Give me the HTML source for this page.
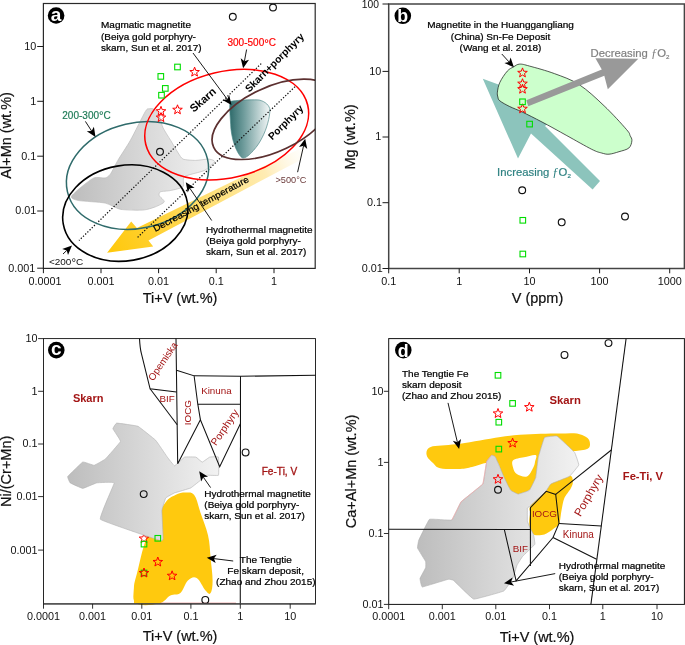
<!DOCTYPE html>
<html lang="en"><head><meta charset="utf-8"><title>Magnetite discrimination diagrams</title>
<style>html,body{margin:0;padding:0;background:#fff}svg{display:block}text{font-family:"Liberation Sans", Arial, Helvetica, sans-serif}</style>
</head><body>
<svg width="685" height="645" viewBox="0 0 685 645">
<defs>
<linearGradient id="gGray" x1="0" y1="0" x2="1" y2="0"><stop offset="0" stop-color="#bdbdbd"/><stop offset="1" stop-color="#f2f2f2"/></linearGradient>
<linearGradient id="gTeal" x1="0" y1="0" x2="1" y2="0"><stop offset="0" stop-color="#2f6b6b"/><stop offset="0.35" stop-color="#6f9c9c"/><stop offset="1" stop-color="#f4f8f8"/></linearGradient>
<linearGradient id="gBand" gradientUnits="userSpaceOnUse" x1="112" y1="250" x2="303" y2="152"><stop offset="0" stop-color="#ffc90e"/><stop offset="0.2" stop-color="#ffd02e"/><stop offset="0.5" stop-color="#ffdf72"/><stop offset="0.8" stop-color="#ffecb4"/><stop offset="1" stop-color="#fff8e6" stop-opacity="0.2"/></linearGradient>
<clipPath id="clipA"><rect x="43.4" y="3.5" width="271.8" height="264.9"/></clipPath>
<clipPath id="clipD"><rect x="388.7" y="338.6" width="295.9" height="265.8"/></clipPath>
</defs>
<rect width="685" height="645" fill="#fff"/>
<g id="panel-a">
<g clip-path="url(#clipA)">
<path d="M149.2 108.8 C148.3 109.1 147.6 107.7 145.4 111.4 C143.2 115.1 133.6 134.6 130.4 140.3 C127.2 146.0 120.1 156.4 117.8 160.4 C115.5 164.4 111.8 172.2 110.3 174.2 C108.8 176.2 107.1 177.5 105.2 177.9 C103.3 178.3 96.8 176.7 93.9 177.9 C91.0 179.1 82.7 185.8 80.1 188.0 C77.5 190.2 71.5 195.3 71.3 196.8 C71.1 198.3 74.8 199.9 78.8 200.6 C82.8 201.3 100.4 202.1 105.2 203.1 C110.0 204.1 115.9 208.5 120.3 209.3 C124.7 210.1 138.8 210.4 142.9 210.1 C147.0 209.8 153.0 207.8 155.5 206.8 C158.0 205.8 163.9 203.1 164.3 201.8 C164.7 200.5 159.6 196.7 159.2 195.5 C158.8 194.3 159.2 192.4 160.5 191.8 C161.8 191.2 168.0 191.1 170.6 190.5 C173.2 189.9 181.5 188.3 183.1 186.7 C184.7 185.1 181.9 178.6 184.4 176.7 C186.9 174.8 201.0 172.2 204.5 170.4 C208.0 168.6 214.1 162.9 214.5 161.6 C214.9 160.3 210.4 159.2 208.2 159.1 C206.0 159.0 198.6 160.4 195.7 160.4 C192.8 160.4 185.2 160.0 183.1 159.1 C181.0 158.2 179.6 155.0 178.1 152.8 C176.6 150.6 172.4 143.2 170.6 140.3 C168.8 137.4 164.2 130.2 163.0 127.7 C161.8 125.2 161.2 120.8 160.5 118.9 C159.8 117.0 157.6 112.6 156.7 111.4 C155.8 110.2 153.9 109.1 153.0 108.8 C152.1 108.5 150.1 108.5 149.2 108.8Z" fill="url(#gGray)" stroke="#b5b5b5" stroke-width="0.6"/>
<polygon points="107.1,252.7 131.2,221.5 136.9,228.0 305.5,146.0 300.0,160.2 148.5,240.6 153.2,246.6" fill="url(#gBand)"/>
<path d="M230 101.5 C236 100.2 250 99.6 258 99.9 C263 100.4 268.5 104 269.7 108.6 C270.5 113 268 125 263.8 134.2 C260 142.5 256.5 147 253.4 150.5 C249.5 155 246 158 242.9 158 C240 157.5 236 150 233.6 142.3 C231.5 135 230.7 128 230.7 124.9 C230.3 118 229.3 108 230 101.5Z" fill="url(#gTeal)" stroke="#4f8a8a" stroke-width="0.7"/>
<line x1="261.2" y1="63.6" x2="79" y2="240.5" stroke="#111" stroke-width="1.25" stroke-dasharray="1.3 1.75"/>
<line x1="295" y1="86.7" x2="136.4" y2="238.5" stroke="#111" stroke-width="1.25" stroke-dasharray="1.3 1.75"/>
<ellipse cx="137.5" cy="175.5" rx="71.9" ry="52.7" transform="rotate(-13.1 137.5 175.5)" fill="none" stroke="#2f6b6b" stroke-width="1.5"/>
<ellipse cx="125.3" cy="213.1" rx="63" ry="47.7" transform="rotate(-9.9 125.3 213.1)" fill="none" stroke="#000" stroke-width="1.6"/>
<ellipse cx="226.7" cy="124.6" rx="83.3" ry="53.1" transform="rotate(-13.6 226.7 124.6)" fill="none" stroke="#ff0000" stroke-width="1.6"/>
<ellipse cx="272.6" cy="119.3" rx="65.2" ry="32" transform="rotate(-25.4 272.6 119.3)" fill="none" stroke="#5c3030" stroke-width="1.7"/>
</g>
<rect x="158.0" y="73.6" width="5.6" height="5.6" fill="none" stroke="#00dd00" stroke-width="1.10"/>
<rect x="162.5" y="85.6" width="5.6" height="5.6" fill="none" stroke="#00dd00" stroke-width="1.10"/>
<rect x="158.7" y="92.4" width="5.6" height="5.6" fill="none" stroke="#00dd00" stroke-width="1.10"/>
<rect x="174.7" y="64.2" width="5.6" height="5.6" fill="none" stroke="#00dd00" stroke-width="1.10"/>
<polygon points="161.0,106.3 162.2,109.6 165.8,109.8 163.0,111.9 163.9,115.3 161.0,113.4 158.1,115.3 159.0,111.9 156.2,109.8 159.8,109.6" fill="none" stroke="#ff0000" stroke-width="1.00" stroke-linejoin="miter"/>
<polygon points="161.0,112.6 162.2,115.9 165.8,116.1 163.0,118.2 163.9,121.6 161.0,119.7 158.1,121.6 159.0,118.2 156.2,116.1 159.8,115.9" fill="none" stroke="#ff0000" stroke-width="1.00" stroke-linejoin="miter"/>
<polygon points="194.6,67.1 195.8,70.4 199.4,70.6 196.6,72.7 197.5,76.1 194.6,74.2 191.7,76.1 192.6,72.7 189.8,70.6 193.4,70.4" fill="none" stroke="#ff0000" stroke-width="1.00" stroke-linejoin="miter"/>
<polygon points="177.5,104.8 178.7,108.1 182.3,108.3 179.5,110.4 180.4,113.8 177.5,111.9 174.6,113.8 175.5,110.4 172.7,108.3 176.3,108.1" fill="none" stroke="#ff0000" stroke-width="1.00" stroke-linejoin="miter"/>
<circle cx="160.0" cy="151.8" r="3.4" fill="none" stroke="#111" stroke-width="1.15"/>
<circle cx="232.8" cy="16.8" r="3.4" fill="none" stroke="#111" stroke-width="1.15"/>
<circle cx="273.0" cy="7.5" r="3.4" fill="none" stroke="#111" stroke-width="1.15"/>
<text transform="translate(101.0 28.1) scale(1.100 1)" font-size="9.09" text-anchor="start" fill="#000" font-weight="normal" stroke="#000" stroke-width="0.22">Magmatic magnetite</text>
<text transform="translate(101.0 39.5) scale(1.100 1)" font-size="9.09" text-anchor="start" fill="#000" font-weight="normal" stroke="#000" stroke-width="0.22">(Beiya gold porphyry-</text>
<text transform="translate(101.0 50.8) scale(1.100 1)" font-size="9.09" text-anchor="start" fill="#000" font-weight="normal" stroke="#000" stroke-width="0.22">skarn, Sun et al. 2017)</text>
<line x1="193.0" y1="53.0" x2="227.3" y2="99.3" stroke="#000" stroke-width="0.90"/>
<polygon points="231.5,105.0 222.5,99.9 227.3,99.3 229.2,94.9" fill="#000"/>
<text transform="translate(227.5 45.7)" font-size="10.00" text-anchor="start" fill="#ff0000" font-weight="normal" stroke="#ff0000" stroke-width="0.18">300-500<tspan font-size="11.5" dy="0.8">°</tspan><tspan dy="-0.8">C</tspan></text>
<line x1="246.6" y1="49.5" x2="244.4" y2="61.3" stroke="#000" stroke-width="0.90"/>
<polygon points="243.1,68.3 240.7,58.2 244.4,61.3 249.0,59.7" fill="#000"/>
<text transform="translate(62.3 118.6)" font-size="10.00" text-anchor="start" fill="#1e7b57" font-weight="normal" stroke="#1e7b57" stroke-width="0.18">200-300<tspan font-size="11.5" dy="0.8">°</tspan><tspan dy="-0.8">C</tspan></text>
<line x1="85.4" y1="121.4" x2="91.6" y2="131.0" stroke="#000" stroke-width="0.90"/>
<polygon points="95.5,137.0 86.8,131.3 91.6,131.0 93.9,126.7" fill="#000"/>
<text transform="translate(48.9 265.0) scale(1.090 1)" font-size="9.17" text-anchor="start" fill="#111" font-weight="normal">&lt;200<tspan font-size="10.6" dy="0.8">°</tspan><tspan dy="-0.8">C</tspan></text>
<line x1="63.0" y1="254.0" x2="66.8" y2="250.4" stroke="#000" stroke-width="0.90"/>
<polygon points="72.0,245.5 68.0,255.1 66.8,250.4 62.2,249.0" fill="#000"/>
<text transform="translate(275.5 182.8)" font-size="9.20" text-anchor="start" fill="#6b3a3a" font-weight="normal">&gt;500°C</text>
<line x1="297.6" y1="172.2" x2="303.6" y2="145.7" stroke="#000" stroke-width="0.90"/>
<polygon points="305.2,138.8 307.2,149.0 303.6,145.7 299.0,147.1" fill="#000"/>
<text transform="translate(202.7 99.7) rotate(-41.0)" font-size="11.00" text-anchor="middle" fill="#000" font-weight="bold" dominant-baseline="central">Skarn</text>
<text transform="translate(274.5 62.5) rotate(-45.0)" font-size="10.20" text-anchor="middle" fill="#000" font-weight="bold" dominant-baseline="central">Skarn+porphyry</text>
<text transform="translate(285.7 122.3) rotate(-44.5)" font-size="10.20" text-anchor="middle" fill="#000" font-weight="bold" dominant-baseline="central">Porphyry</text>
<text transform="translate(155.2 232.1) rotate(-28.3) scale(1.100 1)" font-size="9.09" text-anchor="start" fill="#000" font-weight="normal" stroke="#000" stroke-width="0.22">Decreasing temperature</text>
<text transform="translate(205.9 233.0) scale(1.100 1)" font-size="9.09" text-anchor="start" fill="#000" font-weight="normal" stroke="#000" stroke-width="0.22">Hydrothermal magnetite</text>
<text transform="translate(205.9 244.3) scale(1.100 1)" font-size="9.09" text-anchor="start" fill="#000" font-weight="normal" stroke="#000" stroke-width="0.22">(Beiya gold porphyry-</text>
<text transform="translate(205.9 255.3) scale(1.100 1)" font-size="9.09" text-anchor="start" fill="#000" font-weight="normal" stroke="#000" stroke-width="0.22">skarn, Sun et al. 2017)</text>
<line x1="211.7" y1="220.5" x2="189.8" y2="188.2" stroke="#000" stroke-width="0.90"/>
<polygon points="185.8,182.3 194.6,187.8 189.8,188.2 187.7,192.5" fill="#000"/>
<rect x="43.4" y="3.5" width="271.8" height="264.9" fill="none" stroke="#2a2a2a" stroke-width="1.20"/>
<line x1="43.4" y1="268.4" x2="43.4" y2="273.2" stroke="#1a1a1a" stroke-width="1.00"/>
<text transform="translate(45.0 284.6)" font-size="10.80" text-anchor="middle" fill="#111" font-weight="normal">0.0001</text>
<line x1="101.0" y1="268.4" x2="101.0" y2="273.2" stroke="#1a1a1a" stroke-width="1.00"/>
<text transform="translate(101.0 284.6)" font-size="10.80" text-anchor="middle" fill="#111" font-weight="normal">0.001</text>
<line x1="158.6" y1="268.4" x2="158.6" y2="273.2" stroke="#1a1a1a" stroke-width="1.00"/>
<text transform="translate(158.6 284.6)" font-size="10.80" text-anchor="middle" fill="#111" font-weight="normal">0.01</text>
<line x1="216.2" y1="268.4" x2="216.2" y2="273.2" stroke="#1a1a1a" stroke-width="1.00"/>
<text transform="translate(216.2 284.6)" font-size="10.80" text-anchor="middle" fill="#111" font-weight="normal">0.1</text>
<line x1="274.0" y1="268.4" x2="274.0" y2="273.2" stroke="#1a1a1a" stroke-width="1.00"/>
<text transform="translate(274.0 284.6)" font-size="10.80" text-anchor="middle" fill="#111" font-weight="normal">1</text>
<line x1="37.2" y1="46.5" x2="43.4" y2="46.5" stroke="#1a1a1a" stroke-width="1.00"/>
<text transform="translate(36.2 49.9)" font-size="10.80" text-anchor="end" fill="#111" font-weight="normal">10</text>
<line x1="37.2" y1="101.3" x2="43.4" y2="101.3" stroke="#1a1a1a" stroke-width="1.00"/>
<text transform="translate(36.2 104.7)" font-size="10.80" text-anchor="end" fill="#111" font-weight="normal">1</text>
<line x1="37.2" y1="156.2" x2="43.4" y2="156.2" stroke="#1a1a1a" stroke-width="1.00"/>
<text transform="translate(36.2 159.6)" font-size="10.80" text-anchor="end" fill="#111" font-weight="normal">0.1</text>
<line x1="37.2" y1="211.0" x2="43.4" y2="211.0" stroke="#1a1a1a" stroke-width="1.00"/>
<text transform="translate(36.2 214.4)" font-size="10.80" text-anchor="end" fill="#111" font-weight="normal">0.01</text>
<line x1="37.2" y1="268.2" x2="43.4" y2="268.2" stroke="#1a1a1a" stroke-width="1.00"/>
<text transform="translate(35.2 271.6)" font-size="10.80" text-anchor="end" fill="#111" font-weight="normal">0.001</text>
<text transform="translate(180.0 303.0) scale(1.050 1)" font-size="13.81" text-anchor="middle" fill="#111" font-weight="normal" stroke="#111" stroke-width="0.20">Ti+V (wt.%)</text>
<text transform="translate(11.4 135.4) rotate(-90.0) scale(1.050 1)" font-size="13.81" text-anchor="middle" fill="#111" font-weight="normal" stroke="#111" stroke-width="0.20">Al+Mn (wt.%)</text>
<circle cx="56.1" cy="15.5" r="8.3" fill="#000"/>
<text transform="translate(56.1 20.6)" font-size="19.00" text-anchor="middle" fill="#fff" font-weight="bold">a</text>
</g>
<g id="panel-b">
<polygon points="482.8,78.8 518.0,158.5 531.0,133.4 592.6,189.4 600.0,181.0 545.0,126.0 564.7,108.6" fill="#8cc4bc"/>
<path d="M519.7 64.1 C522.4 64.0 523.8 64.5 529.6 66.1 C535.4 67.7 546.1 70.5 554.4 73.6 C562.7 76.7 571.0 79.3 579.3 84.7 C587.6 90.1 596.2 98.3 604.1 105.8 C612.0 113.2 622.1 124.4 626.4 129.4 C630.7 134.4 629.2 133.7 630.1 135.6 C631.0 137.5 632.1 138.5 631.9 140.6 C631.7 142.7 631.0 146.2 628.9 148.0 C626.8 149.8 622.3 150.7 619.0 151.7 C615.7 152.7 611.9 154.0 609.0 154.2 C606.1 154.4 604.5 153.8 601.6 153.0 C598.7 152.2 597.5 152.2 591.7 149.3 C585.9 146.4 575.1 140.2 566.8 135.6 C558.5 131.0 549.4 125.9 542.0 122.0 C534.6 118.1 527.6 114.6 522.2 112.0 C516.8 109.4 513.5 108.4 509.8 106.6 C506.1 104.8 501.9 102.5 499.9 100.9 C497.9 99.3 498.3 98.5 497.9 97.1 C497.5 95.6 497.1 94.7 497.4 92.2 C497.7 89.7 498.2 85.8 499.9 82.3 C501.5 78.8 505.0 73.7 507.3 71.1 C509.6 68.5 511.4 68.1 513.5 66.9 C515.6 65.7 517.0 64.2 519.7 64.1Z" fill="#ccffcc" stroke="#111" stroke-width="0.7"/>
<polygon points="526.3,100.3 601.8,69.5 595.4,58.2 638.3,58.8 607.8,89.2 604.3,75.7 528.3,106.2" fill="#999999"/>
<polygon points="522.5,67.9 523.7,71.2 527.3,71.4 524.5,73.5 525.4,76.9 522.5,75.0 519.6,76.9 520.5,73.5 517.7,71.4 521.3,71.2" fill="none" stroke="#ff0000" stroke-width="1.00" stroke-linejoin="miter"/>
<polygon points="522.5,78.7 523.7,82.0 527.3,82.2 524.5,84.3 525.4,87.7 522.5,85.8 519.6,87.7 520.5,84.3 517.7,82.2 521.3,82.0" fill="none" stroke="#ff0000" stroke-width="1.00" stroke-linejoin="miter"/>
<polygon points="522.5,84.2 523.7,87.5 527.3,87.7 524.5,89.8 525.4,93.2 522.5,91.3 519.6,93.2 520.5,89.8 517.7,87.7 521.3,87.5" fill="none" stroke="#ff0000" stroke-width="1.00" stroke-linejoin="miter"/>
<polygon points="522.5,103.8 523.7,107.1 527.3,107.3 524.5,109.4 525.4,112.8 522.5,110.9 519.6,112.8 520.5,109.4 517.7,107.3 521.3,107.1" fill="none" stroke="#ff0000" stroke-width="1.00" stroke-linejoin="miter"/>
<rect x="519.7" y="99.0" width="5.6" height="5.6" fill="none" stroke="#00dd00" stroke-width="1.10"/>
<rect x="526.8" y="121.3" width="5.6" height="5.6" fill="none" stroke="#00dd00" stroke-width="1.10"/>
<rect x="520.0" y="217.5" width="5.6" height="5.6" fill="none" stroke="#00dd00" stroke-width="1.10"/>
<rect x="520.0" y="251.2" width="5.6" height="5.6" fill="none" stroke="#00dd00" stroke-width="1.10"/>
<circle cx="522.2" cy="190.2" r="3.4" fill="none" stroke="#111" stroke-width="1.15"/>
<circle cx="561.7" cy="222.3" r="3.4" fill="none" stroke="#111" stroke-width="1.15"/>
<circle cx="625.0" cy="216.5" r="3.4" fill="none" stroke="#111" stroke-width="1.15"/>
<text transform="translate(500.5 28.1) scale(1.100 1)" font-size="9.09" text-anchor="middle" fill="#000" font-weight="normal" stroke="#000" stroke-width="0.22">Magnetite in the Huanggangliang</text>
<text transform="translate(500.5 39.5) scale(1.100 1)" font-size="9.09" text-anchor="middle" fill="#000" font-weight="normal" stroke="#000" stroke-width="0.22">(China) Sn-Fe Deposit</text>
<text transform="translate(500.5 50.6) scale(1.100 1)" font-size="9.09" text-anchor="middle" fill="#000" font-weight="normal" stroke="#000" stroke-width="0.22">(Wang et al. 2018)</text>
<line x1="501.8" y1="54.0" x2="509.1" y2="62.0" stroke="#000" stroke-width="0.90"/>
<polygon points="513.9,67.3 504.4,63.1 509.1,62.0 510.6,57.4" fill="#000"/>
<text x="590.6" y="56.5" font-size="11.3" fill="#808080" stroke="#808080" stroke-width="0.2">Decreasing <tspan font-family="'Liberation Serif', serif" font-style="italic" font-size="12.5" stroke="none">ƒ</tspan>O<tspan font-size="6.2" dy="2">2</tspan></text>
<text x="497.1" y="176" font-size="11.3" fill="#2f8282" stroke="#2f8282" stroke-width="0.2">Increasing <tspan font-family="'Liberation Serif', serif" font-style="italic" font-size="12.5" stroke="none">ƒ</tspan>O<tspan font-size="6.2" dy="2">2</tspan></text>
<rect x="388.7" y="4.0" width="295.7" height="264.5" fill="none" stroke="#444" stroke-width="1.50"/>
<line x1="388.7" y1="268.5" x2="388.7" y2="273.3" stroke="#1a1a1a" stroke-width="1.00"/>
<text transform="translate(388.7 285.3)" font-size="10.80" text-anchor="middle" fill="#111" font-weight="normal">0.1</text>
<line x1="459.2" y1="268.5" x2="459.2" y2="273.3" stroke="#1a1a1a" stroke-width="1.00"/>
<text transform="translate(459.2 285.3)" font-size="10.80" text-anchor="middle" fill="#111" font-weight="normal">1</text>
<line x1="529.5" y1="268.5" x2="529.5" y2="273.3" stroke="#1a1a1a" stroke-width="1.00"/>
<text transform="translate(529.5 285.3)" font-size="10.80" text-anchor="middle" fill="#111" font-weight="normal">10</text>
<line x1="599.6" y1="268.5" x2="599.6" y2="273.3" stroke="#1a1a1a" stroke-width="1.00"/>
<text transform="translate(599.6 285.3)" font-size="10.80" text-anchor="middle" fill="#111" font-weight="normal">100</text>
<line x1="669.7" y1="268.5" x2="669.7" y2="273.3" stroke="#1a1a1a" stroke-width="1.00"/>
<text transform="translate(669.7 285.3)" font-size="10.80" text-anchor="middle" fill="#111" font-weight="normal">1000</text>
<line x1="382.5" y1="4.0" x2="388.7" y2="4.0" stroke="#1a1a1a" stroke-width="1.00"/>
<text transform="translate(379.0 7.9)" font-size="10.30" text-anchor="end" fill="#111" font-weight="normal">100</text>
<line x1="382.5" y1="71.4" x2="388.7" y2="71.4" stroke="#1a1a1a" stroke-width="1.00"/>
<text transform="translate(381.2 74.8)" font-size="10.80" text-anchor="end" fill="#111" font-weight="normal">10</text>
<line x1="382.5" y1="137.0" x2="388.7" y2="137.0" stroke="#1a1a1a" stroke-width="1.00"/>
<text transform="translate(381.2 140.4)" font-size="10.80" text-anchor="end" fill="#111" font-weight="normal">1</text>
<line x1="382.5" y1="202.7" x2="388.7" y2="202.7" stroke="#1a1a1a" stroke-width="1.00"/>
<text transform="translate(381.9 206.1)" font-size="10.80" text-anchor="end" fill="#111" font-weight="normal">0.1</text>
<line x1="382.5" y1="268.5" x2="388.7" y2="268.5" stroke="#1a1a1a" stroke-width="1.00"/>
<text transform="translate(382.7 271.9)" font-size="10.80" text-anchor="end" fill="#111" font-weight="normal">0.01</text>
<text transform="translate(537.5 303.0) scale(1.050 1)" font-size="13.81" text-anchor="middle" fill="#111" font-weight="normal" stroke="#111" stroke-width="0.20">V (ppm)</text>
<text transform="translate(355.0 137.0) rotate(-90.0) scale(1.050 1)" font-size="13.81" text-anchor="middle" fill="#111" font-weight="normal" stroke="#111" stroke-width="0.20">Mg (wt.%)</text>
<circle cx="402.8" cy="15.8" r="8.3" fill="#000"/>
<text transform="translate(402.8 22.2)" font-size="17.80" text-anchor="middle" fill="#fff" font-weight="bold">b</text>
</g>
<g id="panel-c">
<path d="M185.4 492.6 C188.8 492.6 191.4 491.4 194.2 495.1 C197.0 498.8 198.0 505.3 200.5 512.7 C203.0 520.1 206.1 527.0 208.0 535.3 C209.9 543.6 209.8 549.6 210.6 557.9 C211.4 566.2 212.6 574.1 212.6 580.6 C212.6 587.1 211.9 591.3 210.6 593.1 C209.3 594.9 208.0 593.4 205.5 590.6 C203.0 587.8 199.9 579.8 196.7 578.0 C193.5 576.2 190.9 577.8 187.9 580.6 C184.9 583.4 183.6 590.4 180.4 593.1 C177.2 595.9 174.3 593.7 170.4 595.6 C166.5 597.5 165.2 602.1 159.0 603.6 C152.8 605.1 141.0 606.4 136.4 603.6 C131.8 600.8 133.7 594.2 133.9 588.1 C134.1 582.0 135.8 578.3 137.7 570.5 C139.6 562.7 141.4 553.7 144.0 545.4 C146.6 537.1 148.1 532.8 152.0 525.0 C155.9 517.2 161.0 508.2 165.3 502.7 C169.6 497.2 171.7 497.0 175.4 495.1 C179.1 493.2 182.0 492.6 185.4 492.6Z" fill="#ffc90e"/>
<rect x="134" y="598" width="26" height="5.7" fill="#ffc90e"/>
<polygon points="144.0,533.6 145.2,536.9 148.8,537.1 146.0,539.2 146.9,542.6 144.0,540.7 141.1,542.6 142.0,539.2 139.2,537.1 142.8,536.9" fill="none" stroke="#ff0000" stroke-width="1.00" stroke-linejoin="miter"/>
<path d="M116.7 423.1 C117.5 423.0 136.7 425.7 138.0 426.3 C139.3 426.9 154.6 439.2 155.6 440.2 C156.6 441.2 166.3 455.6 166.9 456.5 C167.5 457.4 173.9 465.8 174.5 465.8 C175.1 465.8 183.9 457.4 184.6 457.1 C185.3 456.8 195.3 456.9 195.9 457.1 C196.5 457.3 201.7 462.1 202.2 462.1 C202.7 462.1 209.2 457.3 209.7 457.1 C210.2 456.9 218.2 456.5 218.5 457.1 C218.8 457.7 218.9 474.6 218.5 475.2 C218.1 475.8 207.5 475.1 207.0 475.2 C206.5 475.3 202.6 478.6 202.1 479.0 C201.6 479.4 191.7 487.4 190.8 487.9 C189.9 488.4 175.3 492.6 174.5 492.9 C173.7 493.2 166.1 497.4 165.7 498.0 C165.3 498.6 162.0 509.2 161.9 510.5 C161.8 511.8 163.2 537.1 163.2 538.1 C163.2 539.1 162.8 541.3 160.7 540.7 C158.6 540.1 102.0 521.2 100.4 519.3 C98.9 517.4 114.3 484.1 114.2 482.9 C114.1 481.7 97.6 482.7 96.6 482.9 C95.6 483.1 83.7 488.4 82.8 488.4 C81.9 488.4 70.7 483.3 70.2 482.9 C69.7 482.5 67.3 477.3 67.7 476.6 C68.1 475.9 81.9 462.4 82.8 462.0 C83.7 461.6 93.3 465.4 94.1 465.3 C94.9 465.2 104.5 459.8 105.4 459.0 C106.3 458.2 120.2 442.4 120.5 441.4 C120.8 440.4 113.0 429.4 112.9 428.8 C112.8 428.2 115.9 423.2 116.7 423.1Z" fill="url(#gGray)" stroke="#b0b0b0" stroke-width="0.6"/>
<line x1="160" y1="603.2" x2="236" y2="603.2" stroke="#e06060" stroke-width="0.8"/>
<path d="M139.5 338.6 Q140 348 141.3 353.2 L150.1 388.8 L176.5 392.1" fill="none" stroke="#111" stroke-width="1.05"/>
<path d="M150.1 388.8 L177.2 424.8" fill="none" stroke="#111" stroke-width="1.05"/>
<path d="M176 338.6 L177.7 463.7 L200.4 419.7 L219.7 466.7 L240.5 423.5" fill="none" stroke="#111" stroke-width="1.05"/>
<path d="M176.5 370.2 L194.1 375.8 L197.8 404.2 L200.4 419.7" fill="none" stroke="#111" stroke-width="1.05"/>
<path d="M194.1 375.8 L240.5 376.3 L315.7 375.3" fill="none" stroke="#111" stroke-width="1.05"/>
<path d="M197.8 404.2 L240.5 404.2" fill="none" stroke="#111" stroke-width="1.05"/>
<path d="M240.5 376.3 L240.3 603.9" fill="none" stroke="#111" stroke-width="1.05"/>
<circle cx="143.7" cy="494.1" r="3.4" fill="none" stroke="#111" stroke-width="1.15"/>
<rect x="155.0" y="535.5" width="5.6" height="5.6" fill="none" stroke="#00dd00" stroke-width="1.10"/>
<rect x="141.2" y="541.3" width="5.6" height="5.6" fill="none" stroke="#00dd00" stroke-width="1.10"/>
<polygon points="157.8,557.0 159.0,560.3 162.6,560.5 159.8,562.6 160.7,566.0 157.8,564.1 154.9,566.0 155.8,562.6 153.0,560.5 156.6,560.3" fill="none" stroke="#ff0000" stroke-width="1.00" stroke-linejoin="miter"/>
<rect x="141.2" y="570.2" width="5.6" height="5.6" fill="none" stroke="#00dd00" stroke-width="1.10"/>
<polygon points="144.0,568.0 145.2,571.3 148.8,571.5 146.0,573.6 146.9,577.0 144.0,575.1 141.1,577.0 142.0,573.6 139.2,571.5 142.8,571.3" fill="none" stroke="#ff0000" stroke-width="1.00" stroke-linejoin="miter"/>
<polygon points="172.1,570.8 173.3,574.1 176.9,574.3 174.1,576.4 175.0,579.8 172.1,577.9 169.2,579.8 170.1,576.4 167.3,574.3 170.9,574.1" fill="none" stroke="#ff0000" stroke-width="1.00" stroke-linejoin="miter"/>
<circle cx="205.3" cy="599.9" r="3.4" fill="none" stroke="#111" stroke-width="1.15"/>
<circle cx="245.6" cy="452.4" r="3.4" fill="none" stroke="#111" stroke-width="1.15"/>
<text transform="translate(72.9 401.6)" font-size="11.00" text-anchor="start" fill="#a31515" font-weight="bold">Skarn</text>
<text transform="translate(162.7 361.2) rotate(-56.0)" font-size="9.80" text-anchor="middle" fill="#a31515" font-weight="normal" dominant-baseline="central">Opemiska</text>
<text transform="translate(167.2 401.6)" font-size="9.80" text-anchor="middle" fill="#a31515" font-weight="normal">BIF</text>
<text transform="translate(187.3 412.7) rotate(-90.0)" font-size="9.80" text-anchor="middle" fill="#a31515" font-weight="normal" dominant-baseline="central">IOCG</text>
<text transform="translate(216.4 393.6)" font-size="9.80" text-anchor="middle" fill="#a31515" font-weight="normal">Kinuna</text>
<text transform="translate(224.7 427.3) rotate(-56.0)" font-size="10.30" text-anchor="middle" fill="#a31515" font-weight="normal" dominant-baseline="central">Porphyry</text>
<text transform="translate(261.7 474.5)" font-size="10.10" text-anchor="start" fill="#a31515" font-weight="normal" stroke="#a31515" stroke-width="0.30">Fe-Ti, V</text>
<text transform="translate(204.3 496.5) scale(1.100 1)" font-size="9.09" text-anchor="start" fill="#000" font-weight="normal" stroke="#000" stroke-width="0.22">Hydrothermal magnetite</text>
<text transform="translate(204.3 507.8) scale(1.100 1)" font-size="9.09" text-anchor="start" fill="#000" font-weight="normal" stroke="#000" stroke-width="0.22">(Beiya gold porphyry-</text>
<text transform="translate(204.3 518.6) scale(1.100 1)" font-size="9.09" text-anchor="start" fill="#000" font-weight="normal" stroke="#000" stroke-width="0.22">skarn, Sun et al. 2017)</text>
<line x1="210.6" y1="487.6" x2="203.3" y2="477.1" stroke="#000" stroke-width="0.90"/>
<polygon points="199.2,471.3 208.1,476.7 203.3,477.1 201.2,481.5" fill="#000"/>
<text transform="translate(265.8 563.1) scale(1.100 1)" font-size="9.09" text-anchor="middle" fill="#000" font-weight="normal" stroke="#000" stroke-width="0.22">The Tengtie</text>
<text transform="translate(265.6 574.0) scale(1.100 1)" font-size="9.09" text-anchor="middle" fill="#000" font-weight="normal" stroke="#000" stroke-width="0.22">Fe skarn deposit,</text>
<text transform="translate(265.8 585.2) scale(1.100 1)" font-size="9.09" text-anchor="middle" fill="#000" font-weight="normal" stroke="#000" stroke-width="0.22">(Zhao and Zhou 2015)</text>
<line x1="233.2" y1="561.0" x2="213.9" y2="558.6" stroke="#000" stroke-width="0.90"/>
<polygon points="206.8,557.7 216.7,554.7 213.9,558.6 215.7,563.0" fill="#000"/>
<rect x="43.5" y="338.6" width="272.0" height="265.3" fill="none" stroke="#111" stroke-width="0.90"/>
<line x1="43.5" y1="603.9" x2="315.5" y2="603.9" stroke="#4a4a4a" stroke-width="1.4"/>
<line x1="43.5" y1="603.9" x2="43.5" y2="608.7" stroke="#1a1a1a" stroke-width="0.90"/>
<text transform="translate(43.5 619.5)" font-size="10.80" text-anchor="middle" fill="#111" font-weight="normal">0.0001</text>
<line x1="92.6" y1="603.9" x2="92.6" y2="608.7" stroke="#1a1a1a" stroke-width="0.90"/>
<text transform="translate(92.6 619.5)" font-size="10.80" text-anchor="middle" fill="#111" font-weight="normal">0.001</text>
<line x1="141.8" y1="603.9" x2="141.8" y2="608.7" stroke="#1a1a1a" stroke-width="0.90"/>
<text transform="translate(141.8 619.5)" font-size="10.80" text-anchor="middle" fill="#111" font-weight="normal">0.01</text>
<line x1="190.9" y1="603.9" x2="190.9" y2="608.7" stroke="#1a1a1a" stroke-width="0.90"/>
<text transform="translate(190.9 619.5)" font-size="10.80" text-anchor="middle" fill="#111" font-weight="normal">0.1</text>
<line x1="240.3" y1="603.9" x2="240.3" y2="608.7" stroke="#1a1a1a" stroke-width="0.90"/>
<text transform="translate(240.3 619.5)" font-size="10.80" text-anchor="middle" fill="#111" font-weight="normal">1</text>
<line x1="290.2" y1="603.9" x2="290.2" y2="608.7" stroke="#1a1a1a" stroke-width="0.90"/>
<text transform="translate(290.2 619.5)" font-size="10.80" text-anchor="middle" fill="#111" font-weight="normal">10</text>
<line x1="38.1" y1="338.6" x2="43.5" y2="338.6" stroke="#1a1a1a" stroke-width="0.90"/>
<text transform="translate(37.6 342.0)" font-size="10.80" text-anchor="end" fill="#111" font-weight="normal">10</text>
<line x1="38.1" y1="391.3" x2="43.5" y2="391.3" stroke="#1a1a1a" stroke-width="0.90"/>
<text transform="translate(37.6 394.7)" font-size="10.80" text-anchor="end" fill="#111" font-weight="normal">1</text>
<line x1="38.1" y1="444.0" x2="43.5" y2="444.0" stroke="#1a1a1a" stroke-width="0.90"/>
<text transform="translate(37.6 447.4)" font-size="10.80" text-anchor="end" fill="#111" font-weight="normal">0.1</text>
<line x1="38.1" y1="496.6" x2="43.5" y2="496.6" stroke="#1a1a1a" stroke-width="0.90"/>
<text transform="translate(37.6 500.0)" font-size="10.80" text-anchor="end" fill="#111" font-weight="normal">0.01</text>
<line x1="38.1" y1="550.1" x2="43.5" y2="550.1" stroke="#1a1a1a" stroke-width="0.90"/>
<text transform="translate(37.6 553.5)" font-size="10.80" text-anchor="end" fill="#111" font-weight="normal">0.001</text>
<text transform="translate(180.0 641.3) scale(1.050 1)" font-size="13.81" text-anchor="middle" fill="#111" font-weight="normal" stroke="#111" stroke-width="0.20">Ti+V (wt.%)</text>
<text transform="translate(10.6 471.3) rotate(-90.0) scale(1.050 1)" font-size="13.81" text-anchor="middle" fill="#111" font-weight="normal" stroke="#111" stroke-width="0.20">Ni/(Cr+Mn)</text>
<circle cx="56.3" cy="350.1" r="8.3" fill="#000"/>
<text transform="translate(56.3 355.2)" font-size="19.00" text-anchor="middle" fill="#fff" font-weight="bold">c</text>
</g>
<g id="panel-d">
<g clip-path="url(#clipD)">
<path d="M427.1 450.1 C428.0 448.4 429.7 447.1 432.7 446.3 C435.7 445.5 440.4 445.6 445.0 445.2 C449.6 444.8 454.5 444.6 460.3 443.8 C466.1 443.0 473.3 441.6 480.0 440.5 C486.7 439.4 493.8 437.9 500.5 437.0 C507.2 436.1 513.3 435.3 520.0 434.8 C526.7 434.3 534.0 434.0 540.7 433.8 C547.4 433.6 554.0 433.4 560.0 433.4 C566.0 433.4 572.3 432.7 577.0 433.6 C581.7 434.6 586.5 436.7 588.4 439.1 C590.3 441.5 590.7 446.1 588.6 448.1 C586.5 450.1 580.6 450.5 575.8 451.1 C571.0 451.8 565.1 451.2 560.0 452.0 C554.9 452.8 548.4 454.3 545.0 456.0 C541.6 457.7 540.8 458.8 539.4 462.0 C538.0 465.2 538.3 470.7 536.9 475.2 C535.5 479.7 533.8 485.9 530.7 489.0 C527.6 492.1 521.5 493.9 518.1 494.1 C514.8 494.3 513.1 493.3 510.6 490.3 C508.1 487.3 505.3 480.7 503.0 476.0 C500.7 471.3 499.7 464.2 497.0 462.0 C494.3 459.8 490.9 461.9 486.7 462.7 C482.5 463.5 476.4 466.0 472.0 467.0 C467.6 468.0 465.6 468.7 460.3 468.9 C455.0 469.1 444.8 469.2 440.2 468.2 C435.6 467.2 435.2 465.0 433.0 463.0 C430.8 461.0 428.1 458.5 427.1 456.4 C426.1 454.2 426.2 451.8 427.1 450.1Z" fill="#ffc90e"/>
<path d="M513.1 460.2 C514.9 458.4 520.2 458.0 524.0 457.2 C527.8 456.4 533.9 454.3 535.7 455.1 C537.5 455.9 535.4 459.9 535.0 462.0 C534.6 464.1 534.6 465.3 533.2 467.7 C531.9 470.1 529.6 475.4 526.9 476.5 C524.2 477.6 519.1 475.5 516.8 474.0 C514.5 472.5 513.7 470.0 513.1 467.7 C512.5 465.4 511.3 461.9 513.1 460.2Z" fill="#fff"/>
<path d="M543.0 487.0 C546.2 483.0 551.1 478.3 554.0 476.5 C556.9 474.7 562.1 473.5 564.5 473.5 C566.9 473.5 570.7 475.5 571.8 476.8 C572.9 478.1 572.9 481.4 572.8 483.0 C572.7 484.6 571.8 486.4 570.7 488.5 C569.6 490.6 565.4 495.5 564.2 498.4 C563.0 501.3 562.2 507.1 561.5 510.4 C560.8 513.7 560.4 521.0 559.3 523.5 C558.2 526.0 555.2 527.5 553.2 529.0 C551.2 530.5 546.9 533.7 544.4 534.5 C541.9 535.3 536.5 535.5 534.6 534.9 C532.7 534.3 530.9 531.9 530.2 530.1 C529.5 528.3 529.2 523.6 529.2 521.3 C529.2 519.0 530.1 514.6 530.2 512.6 C530.3 510.6 528.5 509.9 530.2 506.5 C531.9 503.1 539.8 491.0 543.0 487.0Z" fill="#ffc90e"/>
<path d="M486.7 461.4 C487.0 460.4 491.4 455.2 491.7 455.1 C492.0 455.0 495.1 456.3 495.5 457.1 C495.9 457.9 503.8 476.6 504.3 477.7 C504.8 478.8 510.1 489.8 510.6 490.3 C511.1 490.8 517.5 494.1 518.1 494.1 C518.7 494.1 528.8 490.8 529.4 490.3 C530.0 489.8 535.4 478.8 535.7 477.7 C536.0 476.6 537.9 458.9 538.2 457.6 C538.5 456.3 543.9 438.2 544.5 437.5 C545.1 436.8 556.0 435.6 557.0 436.1 C558.0 436.6 573.9 451.4 574.6 452.4 C575.3 453.4 579.0 464.2 578.8 465.0 C578.6 465.8 570.4 475.7 569.5 476.3 C568.6 476.9 551.6 483.5 550.8 484.0 C550.0 484.5 546.4 490.8 545.7 491.6 C545.0 492.4 530.0 506.1 529.4 506.6 C528.8 507.1 527.5 507.5 527.4 508.0 C527.3 508.5 527.3 520.6 527.4 521.3 C527.5 522.0 530.0 527.6 530.2 528.0 C530.4 528.4 533.3 534.0 533.5 534.5 C533.7 535.0 535.2 543.6 534.8 544.3 C534.4 545.0 523.2 555.7 522.6 556.4 C522.0 557.1 517.4 564.3 517.1 565.0 C516.8 565.7 513.4 577.1 513.0 578.0 C512.6 578.9 505.1 590.3 503.8 591.0 C502.5 591.7 475.4 599.5 473.7 599.1 C472.0 598.8 454.5 581.2 453.6 580.5 C452.8 579.8 449.2 579.1 448.2 579.3 C447.2 579.5 423.2 587.0 422.3 587.0 C421.4 587.0 419.9 579.1 420.0 578.5 C420.1 577.9 425.4 568.4 425.6 567.8 C425.8 567.2 425.9 562.2 425.6 561.5 C425.3 560.8 417.7 548.8 417.5 548.1 C417.3 547.4 418.4 541.1 418.8 540.1 C419.2 539.1 428.4 520.0 429.5 519.3 C430.6 518.6 450.7 520.6 451.8 520.0 C452.9 519.4 460.1 503.0 461.1 501.8 C462.1 500.6 482.0 485.3 482.9 484.0 C483.8 482.7 486.4 462.4 486.7 461.4Z" fill="url(#gGray)" stroke="#b0b0b0" stroke-width="0.6"/>
<path d="M491.7 455.1 L486.7 461.4 L482.9 484 L461.1 501.8 L451.8 520" fill="none" stroke="#f2aaaa" stroke-width="0.7"/>
<path d="M388.7 529.2 L530.4 529.5" fill="none" stroke="#111" stroke-width="1.05"/>
<path d="M504.3 529.3 L516.1 580.8 L553 537.5 L559 523.4 L555.7 494.4 L546.2 491.3 L530.4 507.6 L530.4 566" fill="none" stroke="#111" stroke-width="1.05"/>
<path d="M555.7 494.4 L611.3 450" fill="none" stroke="#111" stroke-width="1.05"/>
<path d="M626.1 338.6 L590.9 604.4" fill="none" stroke="#111" stroke-width="1.05"/>
<path d="M559 523.4 L601.4 525.9" fill="none" stroke="#111" stroke-width="1.05"/>
<path d="M553 537.5 L596.6 559.3" fill="none" stroke="#111" stroke-width="1.05"/>
</g>
<rect x="495.2" y="372.5" width="5.6" height="5.6" fill="none" stroke="#00dd00" stroke-width="1.10"/>
<rect x="509.8" y="400.6" width="5.6" height="5.6" fill="none" stroke="#00dd00" stroke-width="1.10"/>
<rect x="496.0" y="419.4" width="5.6" height="5.6" fill="none" stroke="#00dd00" stroke-width="1.10"/>
<rect x="496.0" y="446.3" width="5.6" height="5.6" fill="none" stroke="#00dd00" stroke-width="1.10"/>
<polygon points="498.0,408.5 499.2,411.8 502.8,412.0 500.0,414.1 500.9,417.5 498.0,415.6 495.1,417.5 496.0,414.1 493.2,412.0 496.8,411.8" fill="none" stroke="#ff0000" stroke-width="1.00" stroke-linejoin="miter"/>
<polygon points="512.6,438.1 513.8,441.4 517.4,441.6 514.6,443.7 515.5,447.1 512.6,445.2 509.7,447.1 510.6,443.7 507.8,441.6 511.4,441.4" fill="none" stroke="#ff0000" stroke-width="1.00" stroke-linejoin="miter"/>
<polygon points="498.0,474.3 499.2,477.6 502.8,477.8 500.0,479.9 500.9,483.3 498.0,481.4 495.1,483.3 496.0,479.9 493.2,477.8 496.8,477.6" fill="none" stroke="#ff0000" stroke-width="1.00" stroke-linejoin="miter"/>
<polygon points="529.3,402.2 530.5,405.5 534.1,405.7 531.3,407.8 532.2,411.2 529.3,409.3 526.4,411.2 527.3,407.8 524.5,405.7 528.1,405.5" fill="none" stroke="#ff0000" stroke-width="1.00" stroke-linejoin="miter"/>
<circle cx="498.0" cy="489.8" r="3.4" fill="none" stroke="#111" stroke-width="1.15"/>
<circle cx="564.5" cy="354.9" r="3.4" fill="none" stroke="#111" stroke-width="1.15"/>
<circle cx="608.5" cy="343.1" r="3.4" fill="none" stroke="#111" stroke-width="1.15"/>
<text transform="translate(402.0 377.0) scale(1.100 1)" font-size="9.09" text-anchor="start" fill="#000" font-weight="normal" stroke="#000" stroke-width="0.22">The Tengtie Fe</text>
<text transform="translate(402.0 388.0) scale(1.100 1)" font-size="9.09" text-anchor="start" fill="#000" font-weight="normal" stroke="#000" stroke-width="0.22">skarn deposit</text>
<text transform="translate(402.0 399.2) scale(1.100 1)" font-size="9.09" text-anchor="start" fill="#000" font-weight="normal" stroke="#000" stroke-width="0.22">(Zhao and Zhou 2015)</text>
<line x1="448.0" y1="402.9" x2="457.4" y2="442.2" stroke="#000" stroke-width="0.90"/>
<polygon points="459.1,449.1 452.8,440.8 457.4,442.2 461.0,438.9" fill="#000"/>
<text transform="translate(549.4 403.9)" font-size="11.30" text-anchor="start" fill="#a31515" font-weight="bold">Skarn</text>
<text transform="translate(622.8 480.2)" font-size="11.20" text-anchor="start" fill="#a31515" font-weight="bold">Fe-Ti, V</text>
<text transform="translate(588.4 495.2) rotate(-60.5)" font-size="11.50" text-anchor="middle" fill="#a31515" font-weight="normal" dominant-baseline="central">Porphyry</text>
<text transform="translate(578.3 537.9)" font-size="10.00" text-anchor="middle" fill="#a31515" font-weight="normal">Kinuna</text>
<text transform="translate(544.4 517.3)" font-size="9.80" text-anchor="middle" fill="#a31515" font-weight="normal">IOCG</text>
<text transform="translate(520.3 551.9)" font-size="9.80" text-anchor="middle" fill="#a31515" font-weight="normal">BIF</text>
<text transform="translate(558.7 568.6) scale(1.100 1)" font-size="9.09" text-anchor="start" fill="#000" font-weight="normal" stroke="#000" stroke-width="0.22">Hydrothermal magnetite</text>
<text transform="translate(558.7 580.0) scale(1.100 1)" font-size="9.09" text-anchor="start" fill="#000" font-weight="normal" stroke="#000" stroke-width="0.22">(Beiya gold porphyry-</text>
<text transform="translate(558.7 591.2) scale(1.100 1)" font-size="9.09" text-anchor="start" fill="#000" font-weight="normal" stroke="#000" stroke-width="0.22">skarn, Sun et al. 2017)</text>
<line x1="555.2" y1="573.6" x2="511.0" y2="582.0" stroke="#000" stroke-width="0.90"/>
<polygon points="504.0,583.3 512.6,577.4 511.0,582.0 514.1,585.7" fill="#000"/>
<rect x="388.7" y="338.6" width="295.7" height="265.8" fill="none" stroke="#111" stroke-width="1.00"/>
<line x1="388.7" y1="604.4" x2="388.7" y2="609.2" stroke="#1a1a1a" stroke-width="0.90"/>
<text transform="translate(388.7 620.0)" font-size="10.80" text-anchor="middle" fill="#111" font-weight="normal">0.0001</text>
<line x1="442.3" y1="604.4" x2="442.3" y2="609.2" stroke="#1a1a1a" stroke-width="0.90"/>
<text transform="translate(442.3 620.0)" font-size="10.80" text-anchor="middle" fill="#111" font-weight="normal">0.001</text>
<line x1="495.8" y1="604.4" x2="495.8" y2="609.2" stroke="#1a1a1a" stroke-width="0.90"/>
<text transform="translate(495.8 620.0)" font-size="10.80" text-anchor="middle" fill="#111" font-weight="normal">0.01</text>
<line x1="549.5" y1="604.4" x2="549.5" y2="609.2" stroke="#1a1a1a" stroke-width="0.90"/>
<text transform="translate(549.5 620.0)" font-size="10.80" text-anchor="middle" fill="#111" font-weight="normal">0.1</text>
<line x1="602.8" y1="604.4" x2="602.8" y2="609.2" stroke="#1a1a1a" stroke-width="0.90"/>
<text transform="translate(602.8 620.0)" font-size="10.80" text-anchor="middle" fill="#111" font-weight="normal">1</text>
<line x1="657.0" y1="604.4" x2="657.0" y2="609.2" stroke="#1a1a1a" stroke-width="0.90"/>
<text transform="translate(657.0 620.0)" font-size="10.80" text-anchor="middle" fill="#111" font-weight="normal">10</text>
<line x1="383.9" y1="391.3" x2="388.7" y2="391.3" stroke="#1a1a1a" stroke-width="0.90"/>
<text transform="translate(383.6 394.7)" font-size="10.80" text-anchor="end" fill="#111" font-weight="normal">10</text>
<line x1="383.9" y1="462.4" x2="388.7" y2="462.4" stroke="#1a1a1a" stroke-width="0.90"/>
<text transform="translate(383.6 465.8)" font-size="10.80" text-anchor="end" fill="#111" font-weight="normal">1</text>
<line x1="383.9" y1="533.5" x2="388.7" y2="533.5" stroke="#1a1a1a" stroke-width="0.90"/>
<text transform="translate(383.6 536.9)" font-size="10.80" text-anchor="end" fill="#111" font-weight="normal">0.1</text>
<line x1="383.9" y1="604.4" x2="388.7" y2="604.4" stroke="#1a1a1a" stroke-width="0.90"/>
<text transform="translate(383.6 607.8)" font-size="10.80" text-anchor="end" fill="#111" font-weight="normal">0.01</text>
<text transform="translate(537.0 641.5) scale(1.050 1)" font-size="13.81" text-anchor="middle" fill="#111" font-weight="normal" stroke="#111" stroke-width="0.20">Ti+V (wt.%)</text>
<text transform="translate(356.0 471.4) rotate(-90.0) scale(1.050 1)" font-size="13.81" text-anchor="middle" fill="#111" font-weight="normal" stroke="#111" stroke-width="0.20">Ca+Al+Mn (wt.%)</text>
<circle cx="403.3" cy="350.1" r="8.3" fill="#000"/>
<text transform="translate(403.3 356.5)" font-size="17.80" text-anchor="middle" fill="#fff" font-weight="bold">d</text>
</g>
</svg>
</body></html>
